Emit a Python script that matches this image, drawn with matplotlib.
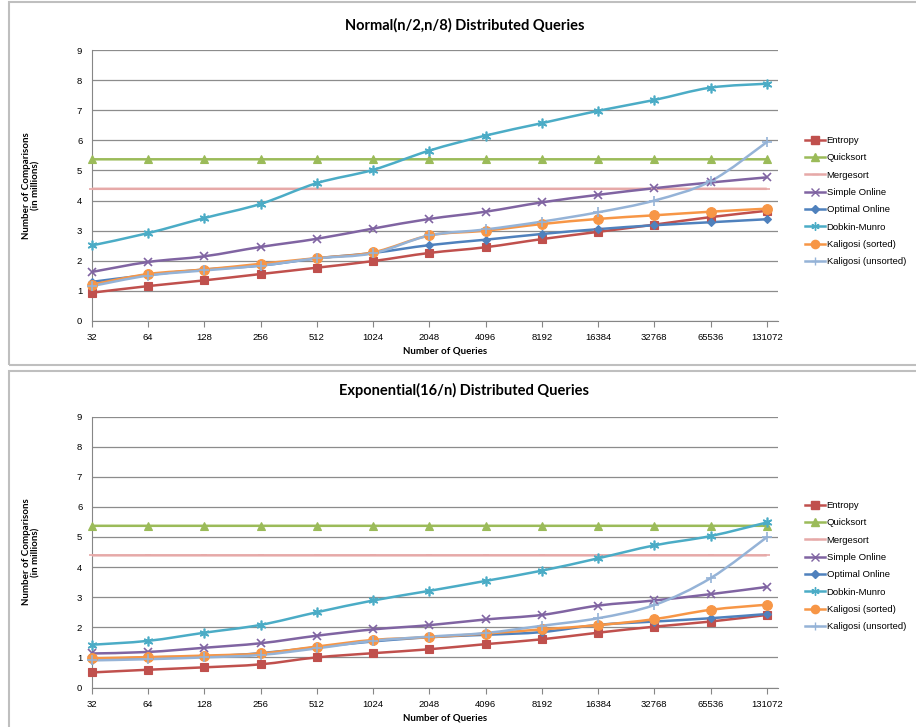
import numpy as np
import matplotlib
matplotlib.use("Agg")
import matplotlib.pyplot as plt
from matplotlib.path import Path
from matplotlib.patches import PathPatch, Rectangle
from matplotlib.lines import Line2D

# x categories (number of queries)
queries = ["32", "64", "128", "256", "512", "1024", "2048", "4096",
           "8192", "16384", "32768", "65536", "131072"]

# ---- Normal(n/2, n/8) ----
norm_entropy = [0.94, 1.16, 1.35, 1.56, 1.77, 1.99, 2.26, 2.45, 2.72, 2.96, 3.20, 3.45, 3.66]
norm_quick = [5.37] * 13
norm_merge = [4.39] * 13
norm_simple = [1.63, 1.96, 2.15, 2.46, 2.73, 3.07, 3.39, 3.63, 3.94, 4.19, 4.41, 4.60, 4.77]
norm_optimal = [1.30, 1.53, 1.71, 1.84, 2.08, 2.26, 2.52, 2.70, 2.89, 3.05, 3.18, 3.28, 3.38]
norm_dobkin = [2.51, 2.92, 3.42, 3.89, 4.58, 5.02, 5.66, 6.16, 6.57, 6.98, 7.34, 7.75, 7.88]
norm_kal_sorted = [1.21, 1.56, 1.71, 1.90, 2.09, 2.28, 2.84, 3.00, 3.22, 3.39, 3.51, 3.63, 3.73]
norm_kal_unsorted = [1.16, 1.51, 1.68, 1.84, 2.08, 2.25, 2.84, 3.04, 3.30, 3.61, 4.00, 4.64, 5.94]

# ---- Exponential(16/n) ----
exp_entropy = [0.50, 0.59, 0.67, 0.77, 1.00, 1.14, 1.27, 1.44, 1.60, 1.82, 2.02, 2.19, 2.41]
exp_quick = [5.37] * 13
exp_merge = [4.39] * 13
exp_simple = [1.13, 1.18, 1.32, 1.47, 1.72, 1.93, 2.07, 2.26, 2.41, 2.72, 2.89, 3.10, 3.34]
exp_optimal = [0.92, 1.00, 1.03, 1.14, 1.34, 1.53, 1.67, 1.75, 1.84, 2.08, 2.19, 2.30, 2.44]
exp_dobkin = [1.42, 1.55, 1.82, 2.08, 2.50, 2.89, 3.21, 3.54, 3.88, 4.29, 4.72, 5.03, 5.48]
exp_kal_sorted = [0.97, 1.01, 1.06, 1.13, 1.36, 1.58, 1.67, 1.79, 1.93, 2.07, 2.27, 2.58, 2.75]
exp_kal_unsorted = [0.90, 0.94, 1.00, 1.08, 1.30, 1.55, 1.69, 1.81, 2.05, 2.30, 2.74, 3.63, 4.99]

labels = ["Entropy", "Quicksort", "Mergesort", "Simple Online", "Optimal Online",
          "Dobkin-Munro", "Kaligosi (sorted)", "Kaligosi (unsorted)"]
colors = ["#C0504D", "#9BBB59", "#E6A9A8", "#8064A2", "#4F81BD",
          "#4BACC6", "#F79646", "#95B3D7"]
markers = ["s", "^", "_", "x", "D", (6, 2, 0), "o", "+"]
msizes = [6, 6, 5, 6, 4.5, 7, 7, 7]

plt.rcParams["font.family"] = ["Liberation Sans", "DejaVu Sans"]


def smooth_path(x, y):
    # Excel-style smoothed line (Catmull-Rom as cubic Bezier)
    px = np.concatenate([[x[0]], x, [x[-1]]])
    py = np.concatenate([[y[0]], y, [y[-1]]])
    verts = [(x[0], y[0])]
    codes = [Path.MOVETO]
    for i in range(1, len(px) - 2):
        c1 = (px[i] + (px[i + 1] - px[i - 1]) / 6, py[i] + (py[i + 1] - py[i - 1]) / 6)
        c2 = (px[i + 1] - (px[i + 2] - px[i]) / 6, py[i + 1] - (py[i + 2] - py[i]) / 6)
        verts += [c1, c2, (px[i + 1], py[i + 1])]
        codes += [Path.CURVE4] * 3
    return Path(verts, codes)


def draw_chart(fig, rect, title, title_y, series, legend_top):
    ax = fig.add_axes(rect)
    x = np.arange(len(queries), dtype=float)
    for vals, col, mk, ms in zip(series, colors, markers, msizes):
        y = np.array(vals, dtype=float)
        ax.add_patch(PathPatch(smooth_path(x, y), facecolor="none", edgecolor=col,
                               lw=1.8, zorder=3))
        ax.plot(x, y, ls="none", marker=mk, ms=ms, color=col, mec=col,
                mew=1.2 if mk in ("x", "+", "_") or isinstance(mk, tuple) else 0.8,
                zorder=4, clip_on=False)
    ax.set_xlim(0, 12.2)
    ax.set_ylim(0, 9)
    ax.set_yticks(range(10))
    ax.set_xticks(x)
    ax.set_xticklabels(queries)
    ax.tick_params(axis="y", length=0, labelsize=6.8, pad=7)
    ax.tick_params(axis="x", length=4, width=0.8, color="#868686",
                   direction="out", labelsize=6.8, pad=5)
    ax.grid(axis="y", color="#8C8C8C", lw=0.9)
    ax.set_axisbelow(True)
    for s in ("top", "right"):
        ax.spines[s].set_visible(False)
    ax.spines["left"].set_color("#868686")
    ax.spines["bottom"].set_color("#868686")
    ax.set_xlabel("Number of Queries", fontsize=7, fontweight="bold",
                  family=["Lato", "DejaVu Sans"], va="center")
    ax.xaxis.set_label_coords(0.515, -30 / 271)
    ax.set_ylabel("Number of Comparisons\n(in millions)", fontsize=7, fontweight="bold",
                  family=["Lato", "DejaVu Sans"], linespacing=1.1, va="center")
    ax.yaxis.set_label_coords(-61 / 686, 0.5)
    fig.text(0.507, title_y, title, ha="center", va="center", fontsize=10.5,
             fontweight="bold", family=["Lato", "DejaVu Sans"])
    handles = [Line2D([], [], color=c, marker=m, ms=ms * 0.85, lw=1.8, mec=c)
               for c, m, ms in zip(colors, markers, msizes)]
    fig.legend(handles, labels, loc="upper left",
               bbox_to_anchor=(805 / 916, legend_top), frameon=False,
               fontsize=6.8, handlelength=2.1, handletextpad=0.2,
               labelspacing=0.88, borderpad=0, borderaxespad=0)
    return ax


fig = plt.figure(figsize=(9.16, 7.27), dpi=100)
W, H = 916, 727

# panel frames
fig.patches.append(Rectangle((9 / W, 1 - 365 / H), 1.0, 363 / H, transform=fig.transFigure,
                             fill=False, edgecolor="#BFBFBF", lw=1.5))
fig.patches.append(Rectangle((9 / W, -0.01), 1.0, 1 - 371 / H + 0.01, transform=fig.transFigure,
                             fill=False, edgecolor="#BFBFBF", lw=1.5))

draw_chart(fig, [92 / W, 1 - 321 / H, 686 / W, 271 / H],
           "Normal(n/2,n/8) Distributed Queries", 1 - 25 / H,
           [norm_entropy, norm_quick, norm_merge, norm_simple, norm_optimal,
            norm_dobkin, norm_kal_sorted, norm_kal_unsorted],
           1 - 136 / H)

draw_chart(fig, [92 / W, 1 - 687.5 / H, 686 / W, 271 / H],
           "Exponential(16/n) Distributed Queries", 1 - 390 / H,
           [exp_entropy, exp_quick, exp_merge, exp_simple, exp_optimal,
            exp_dobkin, exp_kal_sorted, exp_kal_unsorted],
           1 - 501 / H)

fig.savefig("out.png", dpi=100)
